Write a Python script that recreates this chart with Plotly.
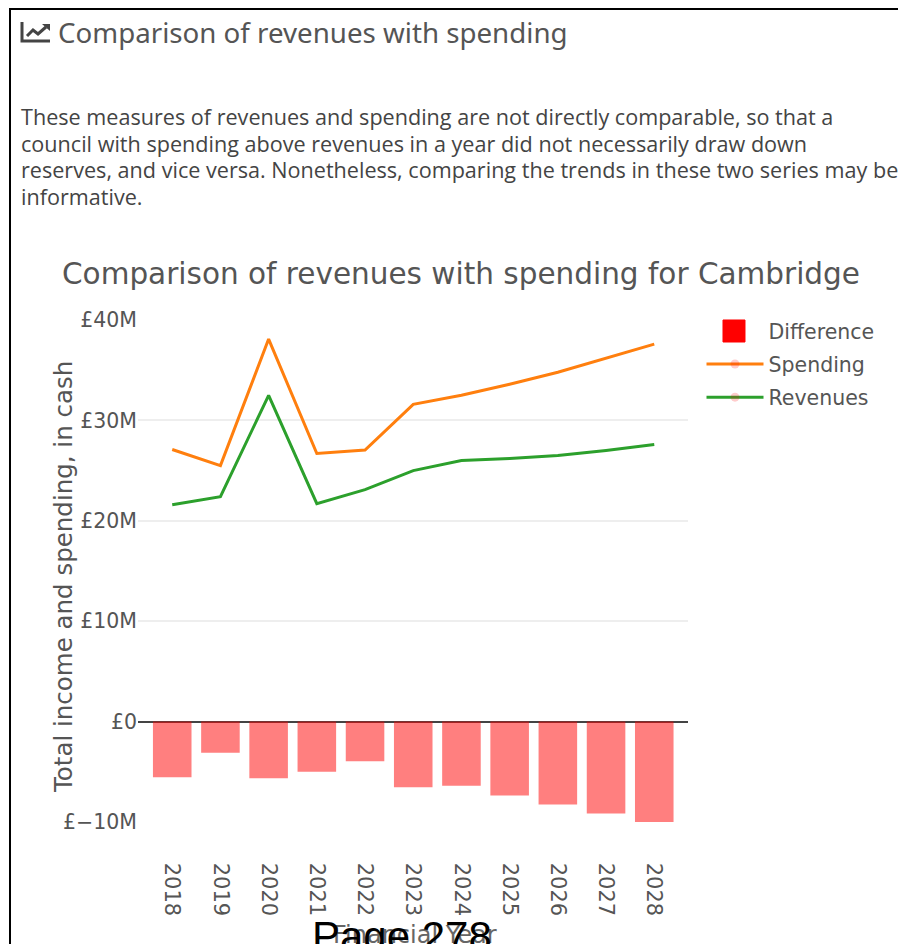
import plotly.graph_objects as go

WIDTH = 898
HEIGHT = 944

years = ["2018", "2019", "2020", "2021", "2022", "2023", "2024", "2025", "2026", "2027", "2028"]
# all in millions of pounds
difference = [-5.55, -3.1, -5.65, -5.0, -3.95, -6.55, -6.4, -7.35, -8.25, -9.15, -10.0]
spending = [27.1, 25.5, 38.1, 26.7, 27.05, 31.6, 32.5, 33.6, 34.8, 36.2, 37.6]
revenues = [21.6, 22.4, 32.5, 21.7, 23.1, 25.0, 26.0, 26.2, 26.5, 27.0, 27.6]
y_ticks = [-10, 0, 10, 20, 30, 40]
y_tick_labels = ["£−10M", "£0", "£10M", "£20M", "£30M", "£40M"]

intro_lines = [
    "These measures of revenues and spending are not directly comparable, so that a",
    "council with spending above revenues in a year did not necessarily draw down",
    "reserves, and vice versa. Nonetheless, comparing the trends in these two series may be",
    "informative.",
]
intro_line_y = [117, 143, 170, 197]


def px(x):
    return x / WIDTH


def py(y):
    return 1 - y / HEIGHT


def path(points, close=False):
    cmds = [f"{'M' if i == 0 else 'L'}{px(x):.5f},{py(y):.5f}" for i, (x, y) in enumerate(points)]
    return " ".join(cmds) + (" Z" if close else "")


fig = go.Figure()

# array opacity keeps the legend swatch solid red while the bars stay see-through
fig.add_trace(go.Bar(
    x=years, y=difference, name="Difference", legendgroup="a",
    marker=dict(color="red", opacity=[0.5] * len(years), line=dict(width=0)),
))
# invisible markers still leave the faint dot in the legend
fig.add_trace(go.Scatter(
    x=years, y=spending, name="Spending", mode="lines+markers", legendgroup="b",
    line=dict(color="#ff7f0e", width=3),
    marker=dict(color="red", size=9, opacity=[0] * len(years)),
))
fig.add_trace(go.Scatter(
    x=years, y=revenues, name="Revenues", mode="lines+markers", legendgroup="c",
    line=dict(color="#2ca02c", width=3),
    marker=dict(color="red", size=9, opacity=[0] * len(years)),
))

shapes = [
    # page frame
    dict(type="line", xref="paper", yref="paper", x0=px(10), x1=px(10), y0=0, y1=py(9),
         line=dict(color="black", width=2)),
    dict(type="line", xref="paper", yref="paper", x0=px(9), x1=1, y0=py(9), y1=py(9),
         line=dict(color="black", width=2)),
    # bigger legend swatch than plotly draws
    dict(type="path", xref="paper", yref="paper",
         path=path([(723, 320), (745, 320), (745, 342), (723, 342)], close=True),
         fillcolor="red", line=dict(color="red", width=1)),
    # chart-line icon in the heading
    dict(type="path", xref="paper", yref="paper", path=path([(22, 22), (22, 41), (50, 41)]),
         line=dict(color="#444", width=3)),
    dict(type="path", xref="paper", yref="paper", path=path([(27, 36), (33, 30), (38, 34), (46, 27)]),
         line=dict(color="#444", width=3)),
    dict(type="path", xref="paper", yref="paper", path=path([(42, 24), (50, 24), (50, 31)], close=True),
         fillcolor="#444", line=dict(width=0)),
]

annotations = [
    dict(text="Comparison of revenues with spending", x=px(56), y=py(32), xanchor="left", yanchor="middle",
         font=dict(family="Noto Sans", size=27.7, color="#555")),
    dict(text="Total income and spending, in cash", x=px(63), y=py(577), textangle=-90,
         xanchor="center", yanchor="middle", font=dict(family="DejaVu Sans", size=24.5, color="#555")),
    dict(text="Financial Year", x=px(415), y=py(935), xanchor="center", yanchor="middle",
         font=dict(family="DejaVu Sans", size=24, color="#666")),
    dict(text="Page 278", x=px(402), y=py(962), xanchor="center", yanchor="bottom",
         font=dict(family="Liberation Sans", size=42, color="black")),
]
for line, y in zip(intro_lines, intro_line_y):
    annotations.append(dict(text=line, x=px(19), y=py(y), xanchor="left", yanchor="middle",
                            font=dict(family="Open Sans", size=21.6, color="#444")))
for a in annotations:
    a.update(xref="paper", yref="paper", showarrow=False)

fig.update_layout(
    width=WIDTH,
    height=HEIGHT,
    margin=dict(l=0, r=0, t=0, b=0),
    paper_bgcolor="white",
    plot_bgcolor="white",
    font=dict(family="DejaVu Sans", size=20.5, color="#555"),
    title=dict(text="Comparison of revenues with spending for Cambridge", xref="paper", yref="paper",
               x=px(461), xanchor="center", y=py(274), yanchor="middle",
               font=dict(size=29.5, color="#555")),
    showlegend=True,
    legend=dict(x=px(701.5), y=py(311), xanchor="left", yanchor="top", itemwidth=57, tracegroupgap=3.5,
                traceorder="grouped", bgcolor="rgba(0,0,0,0)", font=dict(size=20.5)),
    shapes=shapes,
    annotations=annotations,
)
fig.update_xaxes(
    domain=[px(138), px(688)],
    type="category",
    range=[-0.71, 10.7],
    tickangle=90,
    ticks="outside",
    ticklen=35,
    tickcolor="rgba(0,0,0,0)",
    tickfont=dict(size=21),
    automargin=False,
)
fig.update_yaxes(
    domain=[py(822.5), py(319.5)],
    range=[-10.05, 40.05],
    tickvals=y_ticks,
    ticktext=y_tick_labels,
    gridcolor="#eee",
    gridwidth=2,
    zeroline=True,
    zerolinecolor="#444",
    zerolinewidth=1.5,
    tickfont=dict(size=20.5),
    automargin=False,
)

fig.write_html("out.html", config={"displayModeBar": False},
               post_script="document.body.style.margin='0';document.body.style.overflow='hidden';")
